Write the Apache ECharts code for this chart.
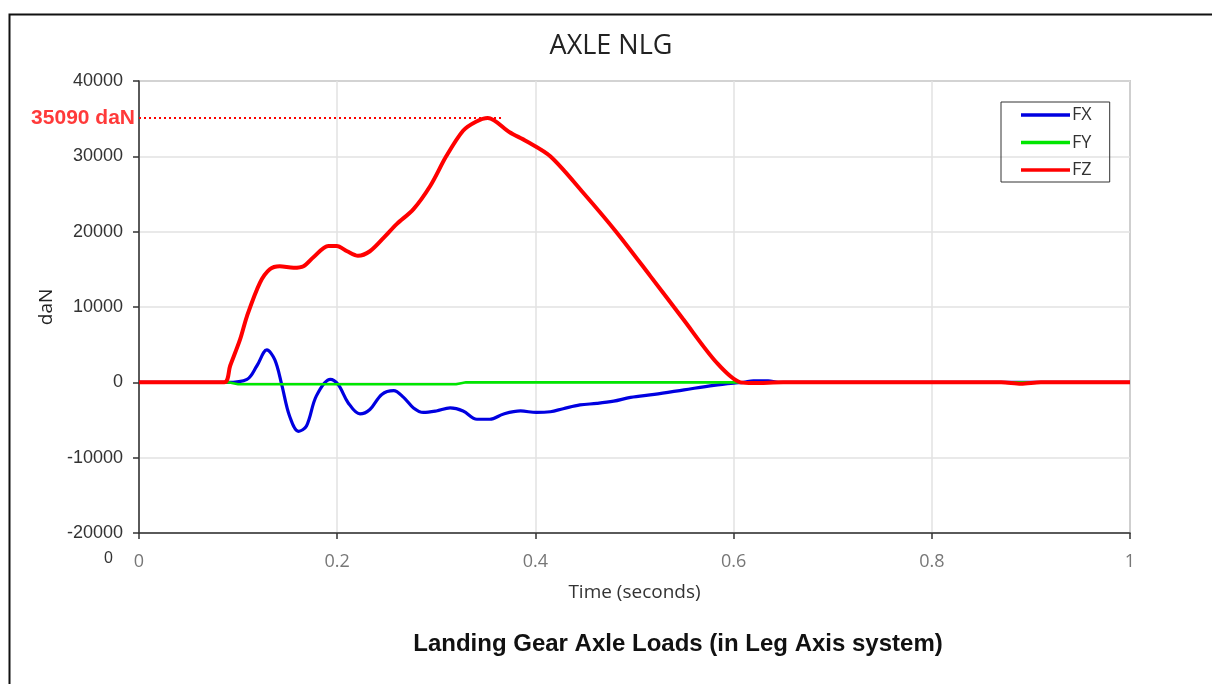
<!DOCTYPE html>
<html>
<head>
<meta charset="utf-8">
<script src="https://cdn.jsdelivr.net/npm/echarts@6/dist/echarts.min.js"></script>
<style>
html,body{margin:0;padding:0;background:#fff;}
#c{width:1212px;height:684px;}
</style>
</head>
<body>
<div id="c"></div>
<script>
// ---- data ----
const xTicks = [0, 0.2, 0.4, 0.6, 0.8, 1];
const yTicks = [-20000, -10000, 0, 10000, 20000, 30000, 40000];

const fzTime = [0, 0.086, 0.092, 0.102, 0.109, 0.122, 0.132, 0.142, 0.156, 0.166, 0.176, 0.191, 0.1995, 0.21, 0.221, 0.233, 0.247, 0.26, 0.277, 0.294, 0.31, 0.327, 0.34, 0.352, 0.374, 0.391, 0.415, 0.448, 0.482, 0.516, 0.549, 0.583, 0.607, 0.62, 0.65, 0.87, 0.89, 0.91, 1.0];
const fzVal  = [0, 0, 2200, 5700, 8800, 13200, 15000, 15400, 15200, 15400, 16600, 18100, 18100, 17400, 16800, 17400, 19200, 21000, 23000, 26100, 30000, 33400, 34600, 35090, 33200, 32000, 30000, 25200, 19900, 14100, 8400, 2600, 0, -100, 0, 0, -200, 0, 0];

const fxTime = [0, 0.0885, 0.109, 0.119, 0.129, 0.137, 0.144, 0.152, 0.161, 0.169, 0.179, 0.193, 0.201, 0.211, 0.223, 0.233, 0.245, 0.257, 0.267, 0.277, 0.287, 0.300, 0.314, 0.327, 0.341, 0.354, 0.368, 0.385, 0.401, 0.415, 0.428, 0.445, 0.462, 0.479, 0.496, 0.52, 0.55, 0.58, 0.6, 0.61, 0.62, 0.635, 0.645, 1.0];
const fxVal  = [0, 0, 400, 2200, 4300, 3000, -300, -4500, -6500, -5800, -1800, 400, -300, -2700, -4200, -3600, -1600, -1100, -2000, -3400, -4000, -3800, -3400, -3800, -4900, -4900, -4200, -3800, -4000, -3900, -3500, -3000, -2800, -2500, -2000, -1600, -1000, -400, -100, 0, 200, 200, 0, 0];

const fyTime = [0, 0.09, 0.1, 0.32, 0.33, 1.0];
const fyVal  = [0, 0, -250, -250, 0, 0];

const seriesNames = ['FX', 'FY', 'FZ'];
const peakLabel = '35090 daN';

// ---- build ----
const pairs = (t, v) => t.map((x, i) => [x, v[i]]);
let peakIdx = 0;
fzVal.forEach((v, i) => { if (v > fzVal[peakIdx]) peakIdx = i; });
const peakVal = fzVal[peakIdx];
const peakT = fzTime[peakIdx];

const chart = echarts.init(document.getElementById('c'), null, {renderer: 'canvas'});
chart.setOption({
  animation: false,
  backgroundColor: '#fff',
  title: [{
    text: 'AXLE NLG', left: 606, top: 28, textAlign: 'center',
    textStyle: {fontFamily: 'Open Sans', fontSize: 27, fontWeight: 'normal', color: '#222'}
  }, {
    text: 'Landing Gear Axle Loads (in Leg Axis system)', left: 673, top: 627, textAlign: 'center',
    textStyle: {fontFamily: 'Liberation Sans', fontSize: 24, fontWeight: 'bold', color: '#111'}
  }],
  legend: {
    orient: 'vertical', left: 1001, top: 102,
    data: seriesNames,
    icon: 'rect', itemWidth: 49, itemHeight: 3.5, itemGap: 9.5,
    padding: [4, 18, 3, 20],
    borderColor: '#333', borderWidth: 1,
    textStyle: {fontFamily: 'Open Sans', fontSize: 18, color: '#333', padding: [0, 0, 0, -3]}
  },
  grid: {
    left: 139, right: 82, top: 81, bottom: 151,
    show: true, borderColor: '#555', borderWidth: 1.2, containLabel: false
  },
  xAxis: {
    type: 'value', min: xTicks[0], max: xTicks[xTicks.length - 1], interval: 0.2,
    name: 'Time (seconds)', nameLocation: 'middle', nameGap: 50,
    nameTextStyle: {fontFamily: 'Open Sans', fontSize: 19, color: '#333'},
    axisLine: {onZero: false, lineStyle: {color: '#333', width: 1.5}},
    axisTick: {show: true, length: 6, lineStyle: {color: '#333', width: 1.5}},
    axisLabel: {margin: 20, fontFamily: 'Open Sans', fontSize: 18, color: '#777',
      formatter: v => String(v)},
    splitLine: {show: true, lineStyle: {color: '#e2e2e2', width: 1.5}}
  },
  yAxis: {
    type: 'value', min: yTicks[0], max: yTicks[yTicks.length - 1], interval: 10000,
    name: 'daN', nameLocation: 'middle', nameGap: 78, nameRotate: 90,
    nameTextStyle: {fontFamily: 'Open Sans', fontSize: 19, color: '#222'},
    axisLine: {show: true, onZero: false, lineStyle: {color: '#333', width: 1.5}},
    axisTick: {show: true, length: 6, lineStyle: {color: '#333', width: 1.5}},
    axisLabel: {margin: 16, fontFamily: 'Liberation Sans', fontSize: 18, color: '#333',
      formatter: v => String(v)},
    splitLine: {show: true, lineStyle: {color: '#e2e2e2', width: 1.5}}
  },
  series: [{
    name: 'FX', type: 'line', data: pairs(fxTime, fxVal), showSymbol: false, smooth: 0.35,
    lineStyle: {color: '#0000e0', width: 3.2}, itemStyle: {color: '#0000e0'}, z: 2
  }, {
    name: 'FY', type: 'line', data: pairs(fyTime, fyVal), showSymbol: false,
    lineStyle: {color: '#00e600', width: 2.6}, itemStyle: {color: '#00e600'}, z: 3
  }, {
    name: 'FZ', type: 'line', data: pairs(fzTime, fzVal), showSymbol: false, smooth: 0.3,
    lineStyle: {color: '#ff0000', width: 4}, itemStyle: {color: '#ff0000'}, z: 4,
    markLine: {
      silent: true, symbol: 'none', animation: false,
      lineStyle: {type: [2, 3], color: '#ff0000', width: 2},
      label: {show: true, position: 'start', distance: 4, formatter: peakLabel,
        fontFamily: 'Liberation Sans', fontWeight: 'bold', fontSize: 21, color: '#ff3a3a'},
      data: [[{coord: [xTicks[0], peakVal]}, {coord: [peakT + 0.014, peakVal]}]]
    }
  }],
  graphic: [{
    type: 'rect', left: 7, top: 12, silent: true,
    shape: {width: 1230, height: 700},
    style: {fill: 'none', stroke: '#111', lineWidth: 2}
  }, {
    type: 'text', left: 104, top: 551, silent: true,
    style: {text: '0', fontFamily: 'Liberation Sans', fontSize: 16, fill: '#333'}
  }]
});
</script>
</body>
</html>
